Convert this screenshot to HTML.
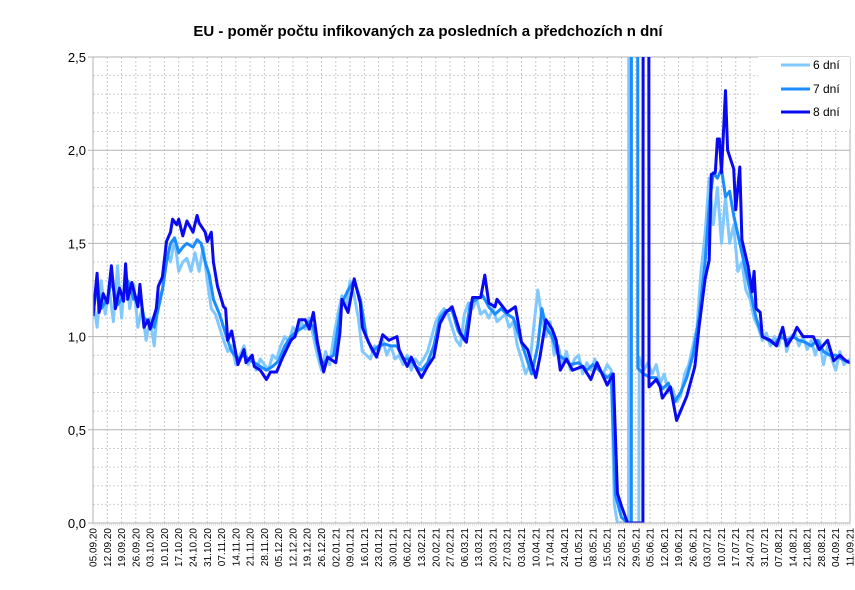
<!DOCTYPE html>
<html><head><meta charset="utf-8"><style>
body{margin:0;background:#fff;}
svg text{font-family:"Liberation Sans",sans-serif;}
</style></head><body>
<svg id="chart" width="855" height="585" xmlns="http://www.w3.org/2000/svg">
<text x="428" y="36" text-anchor="middle" font-size="15" font-weight="bold">EU - poměr počtu infikovaných za posledních a předchozích n dní</text>
<defs><clipPath id="clip"><rect x="93" y="57" width="757" height="466"/></clipPath></defs>
<g id="grid"></g><g id="series" clip-path="url(#clip)"></g><g id="axes"></g>
<g>
<rect x="758" y="57" width="92" height="72" fill="#fff"/>
<line x1="781" y1="65" x2="810" y2="65" stroke="#80c8ff" stroke-width="3"/>
<text x="813" y="69" font-size="12">6 dní</text>
<line x1="781" y1="89" x2="810" y2="89" stroke="#1a8cff" stroke-width="3"/>
<text x="813" y="93" font-size="12">7 dní</text>
<line x1="781" y1="112" x2="810" y2="112" stroke="#0a0af0" stroke-width="3"/>
<text x="813" y="116" font-size="12">8 dní</text>
</g>
</svg>
<script>
const weekLabels=["05.09.20","12.09.20","19.09.20","26.09.20","03.10.20","10.10.20","17.10.20","24.10.20","31.10.20","07.11.20","14.11.20","21.11.20","28.11.20","05.12.20","12.12.20","19.12.20","26.12.20","02.01.21","09.01.21","16.01.21","23.01.21","30.01.21","06.02.21","13.02.21","20.02.21","27.02.21","06.03.21","13.03.21","20.03.21","27.03.21","03.04.21","10.04.21","17.04.21","24.04.21","01.05.21","08.05.21","15.05.21","22.05.21","29.05.21","05.06.21","12.06.21","19.06.21","26.06.21","03.07.21","10.07.21","17.07.21","24.07.21","31.07.21","07.08.21","14.08.21","21.08.21","28.08.21","04.09.21","11.09.21"];
const yTicks=[0,0.5,1,1.5,2,2.5];
const totalDays=371;
const s6=[[0,1.20],[2,1.05],[4,1.30],[6,1.12],[8,1.25],[10,1.08],[12,1.38],[14,1.10],[16,1.38],[18,1.15],[20,1.28],[22,1.05],[24,1.15],[26,0.98],[28,1.10],[30,0.95],[32,1.20],[34,1.25],[36,1.45],[38,1.40],[40,1.52],[42,1.35],[44,1.40],[46,1.42],[48,1.35],[50,1.45],[52,1.35],[54,1.48],[56,1.30],[58,1.15],[60,1.12],[62,1.05],[64,0.98],[66,0.92],[68,0.95],[70,0.85],[72,0.90],[74,0.95],[76,0.85],[78,0.88],[80,0.82],[82,0.88],[84,0.85],[86,0.82],[88,0.90],[90,0.88],[92,0.95],[94,1.0],[96,0.97],[98,1.05],[100,1.02],[102,1.08],[104,1.04],[106,1.10],[108,1.0],[110,0.90],[112,0.82],[114,0.92],[116,0.85],[118,1.0],[120,1.12],[122,1.22],[124,1.15],[126,1.30],[128,1.22],[130,1.10],[132,0.92],[134,0.90],[136,0.88],[138,0.95],[140,0.92],[142,0.98],[144,0.90],[146,0.95],[148,0.88],[150,0.90],[152,0.85],[154,0.90],[156,0.82],[158,0.88],[160,0.85],[162,0.88],[164,0.92],[166,1.0],[168,1.08],[170,1.12],[172,1.15],[174,1.12],[176,1.05],[178,0.98],[180,0.95],[182,1.12],[184,1.18],[186,1.15],[188,1.20],[190,1.12],[192,1.14],[194,1.10],[196,1.15],[198,1.08],[200,1.10],[202,1.12],[204,1.05],[206,1.08],[208,0.95],[210,0.88],[212,0.80],[214,0.85],[216,1.05],[218,1.25],[220,1.10],[222,1.0],[224,1.08],[226,0.90],[228,0.95],[230,0.85],[232,0.92],[234,0.82],[236,0.88],[238,0.90],[240,0.80],[242,0.86],[244,0.82],[246,0.88],[248,0.82],[250,0.80],[252,0.85],[254,0.82],[255.5,0.1],[257,0],[262.5,0],[262.8,12],[263.5,12],[263.7,0],[267.5,0],[267.7,0.89],[270,0.82],[272,0.86],[274,0.80],[276,0.85],[278,0.75],[280,0.80],[282,0.70],[284,0.72],[286,0.65],[288,0.68],[290,0.80],[292,0.85],[294,0.95],[296,1.05],[298,1.35],[300,1.55],[302,1.85],[304,1.60],[306,1.80],[308,1.50],[310,1.75],[312,1.50],[314,1.60],[316,1.35],[318,1.40],[320,1.25],[322,1.20],[324,1.10],[326,1.05],[328,0.98],[330,1.02],[332,0.95],[334,1.0],[336,0.95],[338,1.05],[340,0.92],[342,1.0],[344,1.02],[346,0.95],[348,1.0],[350,0.93],[352,0.98],[354,0.90],[356,0.98],[358,0.85],[360,0.95],[362,0.88],[364,0.82],[366,0.92],[368,0.85],[371,0.88]];
const s7=[[0,1.12],[2,1.28],[4,1.15],[7,1.20],[9,1.30],[12,1.17],[15,1.22],[17,1.30],[20,1.20],[23,1.22],[25,1.10],[28,1.07],[30,1.05],[32,1.15],[34,1.25],[36,1.40],[38,1.50],[40,1.53],[42,1.45],[44,1.48],[46,1.50],[49,1.48],[51,1.52],[53,1.50],[55,1.40],[57,1.33],[59,1.20],[62,1.12],[64,1.05],[66,0.98],[68,0.92],[71,0.88],[74,0.90],[76,0.88],[79,0.86],[82,0.84],[85,0.82],[88,0.84],[91,0.87],[94,0.95],[97,1.0],[100,1.03],[103,1.05],[106,1.08],[108,1.05],[110,0.95],[112,0.85],[115,0.88],[118,0.90],[120,1.05],[122,1.18],[125,1.25],[128,1.30],[131,1.20],[134,1.00],[137,0.92],[140,0.95],[143,0.96],[146,0.95],[149,0.95],[152,0.88],[155,0.88],[158,0.84],[161,0.82],[164,0.86],[167,0.95],[170,1.10],[173,1.14],[176,1.14],[179,1.03],[182,0.98],[185,1.18],[188,1.20],[191,1.22],[194,1.16],[197,1.12],[200,1.15],[203,1.12],[206,1.10],[209,1.00],[212,0.90],[215,0.80],[218,0.95],[220,1.15],[222,1.05],[225,1.0],[228,0.90],[231,0.88],[234,0.85],[238,0.86],[242,0.82],[245,0.85],[248,0.82],[252,0.78],[254,0.80],[256,0.15],[259,0.03],[262,0],[263.8,0],[264,12],[266.8,12],[267,0.83],[270,0.80],[273,0.78],[276,0.78],[279,0.72],[282,0.75],[285,0.65],[288,0.70],[291,0.78],[294,0.90],[297,1.10],[300,1.40],[302,1.70],[304,1.88],[306,1.85],[308,1.90],[310,1.75],[312,1.78],[314,1.65],[316,1.55],[318,1.45],[320,1.35],[322,1.25],[325,1.10],[328,1.0],[331,0.98],[334,0.96],[337,1.0],[340,0.98],[343,1.0],[346,0.98],[349,0.97],[352,0.95],[355,0.98],[358,0.92],[361,0.90],[364,0.90],[367,0.88],[371,0.86]];
const s8=[[0,1.11],[2,1.34],[3,1.13],[5,1.23],[7,1.18],[9,1.38],[11,1.15],[13,1.26],[15,1.19],[16,1.39],[17,1.2],[19,1.29],[22,1.16],[23,1.28],[25,1.05],[27,1.09],[28,1.04],[31,1.15],[32,1.27],[34,1.32],[36,1.51],[38,1.56],[39,1.63],[41,1.60],[42,1.63],[44,1.54],[46,1.62],[49,1.56],[51,1.65],[52,1.61],[55,1.56],[56,1.51],[58,1.56],[59,1.40],[61,1.27],[64,1.16],[65,1.15],[66,0.98],[68,1.03],[71,0.85],[74,0.93],[75,0.86],[78,0.90],[79,0.84],[82,0.82],[85,0.77],[87,0.81],[90,0.81],[93,0.89],[97,0.98],[99,1.0],[101,1.09],[104,1.09],[106,1.04],[108,1.13],[110,0.97],[113,0.81],[115,0.89],[119,0.86],[121,1.02],[122,1.20],[125,1.13],[128,1.31],[131,1.18],[132,1.05],[135,0.97],[139,0.89],[142,1.01],[145,0.98],[149,1.0],[150,0.93],[154,0.84],[156,0.89],[159,0.82],[161,0.78],[164,0.84],[167,0.89],[170,1.07],[173,1.13],[176,1.16],[180,1.02],[183,0.97],[186,1.21],[190,1.21],[192,1.33],[194,1.18],[197,1.16],[198,1.2],[203,1.13],[207,1.16],[210,0.97],[213,0.93],[217,0.78],[219,0.89],[222,1.09],[225,1.04],[227,0.98],[229,0.82],[232,0.88],[235,0.82],[240,0.84],[244,0.77],[247,0.86],[252,0.74],[255,0.80],[257,0.16],[259,0.09],[262,0],[269.5,0],[270,12],[272,12],[272.5,0.73],[276,0.77],[278,0.73],[279,0.67],[283,0.73],[286,0.55],[291,0.68],[295,0.84],[297,1.05],[300,1.31],[302,1.41],[303,1.87],[305,1.88],[306,2.06],[307,2.06],[308,1.88],[310,2.32],[311,2.0],[314,1.90],[315,1.68],[317,1.91],[318,1.52],[321,1.38],[323,1.24],[324,1.35],[325,1.15],[327,1.13],[328,1.0],[332,0.98],[335,0.95],[338,1.05],[340,0.95],[343,1.0],[345,1.05],[348,1.0],[353,1.0],[356,0.93],[360,0.98],[363,0.87],[366,0.90],[369,0.87],[371,0.86]];
const NS="http://www.w3.org/2000/svg";
const X0=93,X1=850,Y0=523,Y1=57,YMAX=2.5;
const xs=d=>X0+d/totalDays*(X1-X0);
const ys=v=>Y0-v/YMAX*(Y0-Y1);
function mk(tag,attrs,parent){const e=document.createElementNS(NS,tag);for(const k in attrs)e.setAttribute(k,attrs[k]);parent.appendChild(e);return e;}
const grid=document.getElementById('grid'),axes=document.getElementById('axes'),ser=document.getElementById('series');
for(let v=0.1;v<2.5;v+=0.1){if(Math.abs(v*2-Math.round(v*2))<0.01)continue;
 const l=mk('line',{x1:X0,x2:X1,y1:ys(v),y2:ys(v),stroke:'#d0d0d0','stroke-dasharray':'2,2'},grid);
 
 }
weekLabels.forEach((lab,i)=>{const x=xs(i*7);
 if(i>0){const l=mk('line',{x1:x,x2:x,y1:Y1,y2:Y0,stroke:'#c8c8c8','stroke-dasharray':'2,2'},grid);
 
 }
 const t=mk('text',{x:0,y:0,transform:`translate(${x+3.5},${Y0+5}) rotate(-90)`,'text-anchor':'end','font-size':'10'},axes);
 t.textContent=lab;
 
 });
yTicks.forEach(v=>{const y=ys(v);
 if(v>0){const l=mk('line',{x1:X0-5,x2:X1,y1:y,y2:y,stroke:'#b3b3b3'},grid);
 
 }
 const t=mk('text',{x:86,y:y+5,'text-anchor':'end','font-size':'13'},axes);
 t.textContent=v.toFixed(1).replace('.',',');
 
 });
for(let d=0;d<=totalDays;d++){const x=xs(d);mk('line',{x1:x,x2:x,y1:Y0,y2:Y0+3,stroke:'#c8c8c8','stroke-width':0.5},axes);}
const xa=mk('line',{x1:X0-5,x2:X1,y1:Y0,y2:Y0,stroke:'#b3b3b3'},axes);


const ya=mk('line',{x1:X0,x2:X0,y1:Y1,y2:Y0,stroke:'#b3b3b3'},axes);


mk('line',{x1:X1,x2:X1,y1:Y1,y2:Y0,stroke:'#b3b3b3'},axes);
[[s6,'#80c8ff','series-6-dni'],[s7,'#1a8cff','series-7-dni'],[s8,'#0a0af0','series-8-dni']].forEach(([s,c,n])=>{
 const p=mk('polyline',{points:s.map(([d,v])=>xs(d).toFixed(1)+','+ys(v).toFixed(1)).join(' '),fill:'none',stroke:c,'stroke-width':3,'stroke-linejoin':'round'},ser);
 
 });
</script>
</body></html>
